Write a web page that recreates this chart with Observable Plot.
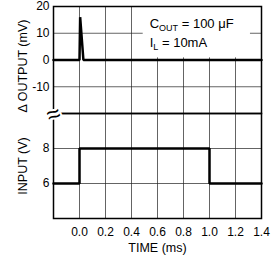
<!DOCTYPE html>
<html><head><meta charset="utf-8">
<script src="https://cdn.jsdelivr.net/npm/d3@7"></script>
<script src="https://cdn.jsdelivr.net/npm/@observablehq/plot@0.6"></script>
<style>
body{margin:0;background:#fff}
#chart{position:relative;width:275px;height:259px;font-family:"Liberation Sans",Arial,sans-serif}
#chart svg{position:absolute;left:0;overflow:visible !important}
</style></head><body><div id="chart"></div>
<script>
// ---- data ----
const timeTicks = [0.0, 0.2, 0.4, 0.6, 0.8, 1.0, 1.2, 1.4];
const timeGrid = [0.0, 0.2, 0.4, 0.6, 0.8, 1.0, 1.2];
const outputTicks = [20, 10, 0, -10];
const outputGrid = [10, -10];
const inputTicks = [8, 6];
const outputTime = [-0.2, 0.0, 0.005, 0.03, 1.4];
const outputMv = [0, 0, 16, 0, 0];
const inputTime = [-0.2, 0.0, 0.0, 1.0, 1.0, 1.4];
const inputV = [6, 6, 8, 8, 6, 6];
const notes = ["C_OUT = 100 μF", "I_L = 10mA"];
const noteTime = [0.54, 0.54];
const noteMv = [13.7, 6.3];
const noteBoxTime = [0.49, 1.315];
const noteBoxMv = [0.8, 20];

const outputData = outputTime.map((t, i) => ({t, v: outputMv[i]}));
const inputData = inputTime.map((t, i) => ({t, v: inputV[i]}));
const noteData = notes.map((s, i) => ({s, t: noteTime[i], v: noteMv[i]}));
const boxData = [{x1: noteBoxTime[0], x2: noteBoxTime[1], y1: noteBoxMv[0], y2: noteBoxMv[1]}];

const font = '"Liberation Sans", Arial, sans-serif';
const gridStyle = {stroke: "#222", strokeOpacity: 0.7, strokeWidth: 1};
const common = {
  width: 275, marginLeft: 53, marginRight: 14,
  style: {fontFamily: font, fontSize: "12px", color: "#000", background: "transparent"}
};
const centered = {textAnchor: "middle", lineAnchor: "middle", fill: "#000"};

const upper = Plot.plot({
  ...common, height: 113, marginTop: 6, marginBottom: 0,
  x: {domain: [-0.2, 1.4], axis: null},
  y: {domain: [-20, 20]},
  marks: [
    Plot.ruleX(timeGrid, gridStyle),
    Plot.ruleY(outputGrid, gridStyle),
    Plot.rect(boxData, {x1: "x1", x2: "x2", y1: "y1", y2: "y2", fill: "white"}),
    Plot.frame({stroke: "#000", strokeWidth: 1.5}),
    Plot.axisY(outputTicks, {tickSize: 0, tickPadding: 4, tickFormat: d => String(d), label: null, fontSize: 12}),
    Plot.line(outputData, {x: "t", y: "v", stroke: "#000", strokeWidth: 2.5, strokeLinejoin: "miter"}),
    Plot.text(noteData, {x: "t", y: "v", text: "s", textAnchor: "start", fontSize: 13, fill: "#000"}),
    Plot.text(["Δ OUTPUT (mV)"], {...centered, text: d => d, frameAnchor: "left", rotate: -90, dx: -31, dy: 6, fontSize: 12.5})
  ]
});

const lower = Plot.plot({
  ...common, height: 146, marginTop: 0, marginBottom: 41,
  x: {domain: [-0.2, 1.4]},
  y: {domain: [4, 10]},
  marks: [
    Plot.ruleX(timeGrid, gridStyle),
    Plot.ruleY(inputTicks, gridStyle),
    Plot.frame({stroke: "#000", strokeWidth: 1.5}),
    Plot.axisY(inputTicks, {tickSize: 0, tickPadding: 4, tickFormat: d => String(d), label: null, fontSize: 12}),
    Plot.axisX(timeTicks, {tickSize: 0, tickPadding: 9, tickFormat: d => d.toFixed(1), label: null, fontSize: 12}),
    Plot.line(inputData, {x: "t", y: "v", stroke: "#000", strokeWidth: 2.5, strokeLinejoin: "miter"}),
    Plot.text(["INPUT (V)"], {...centered, text: d => d, frameAnchor: "left", rotate: -90, dx: -31, fontSize: 12.5}),
    Plot.text(["TIME (ms)"], {...centered, text: d => d, frameAnchor: "bottom", dy: 29, fontSize: 12.5}),
    Plot.text(["≈"], {...centered, text: d => d, frameAnchor: "top-left", dy: 1, rotate: -20, fontSize: 24, stroke: "white", strokeWidth: 4})
  ]
});

const chart = document.getElementById("chart");
upper.style.top = "0px";
lower.style.top = "113px";
chart.appendChild(upper);
chart.appendChild(lower);

// subscripts: "X_SUB rest"
d3.select(chart).selectAll("text").each(function() {
  const el = d3.select(this);
  const txt = this.textContent;
  const m = /^(\w)_(\w+)(.*)$/.exec(txt);
  if (!m) return;
  el.text(null);
  el.append("tspan").text(m[1]);
  el.append("tspan").attr("font-size", 9).attr("dy", 3).text(m[2]);
  el.append("tspan").attr("dy", -3).text(m[3]);
});
</script></body></html>
